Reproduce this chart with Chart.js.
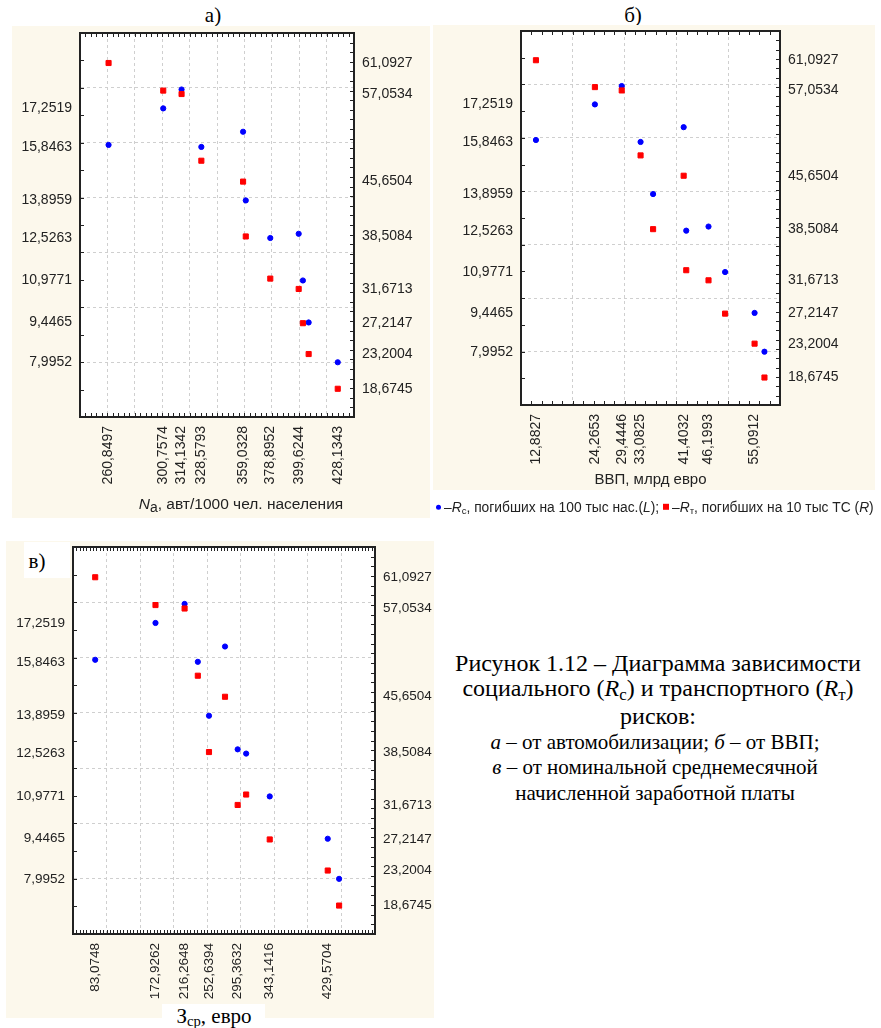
<!DOCTYPE html>
<html lang="ru">
<head>
<meta charset="utf-8">
<title>Рисунок 1.12</title>
<script src="https://cdn.jsdelivr.net/npm/chart.js@4.4.1/dist/chart.umd.min.js"></script>
<style>
  html, body { margin: 0; padding: 0; background: #fff; }
  body { width: 881px; height: 1028px; position: relative; overflow: hidden;
         font-family: "Liberation Sans", Arial, sans-serif; color: #222; }
  .panel { position: absolute; background: #fcf8ec; }
  .panel canvas { position: absolute; left: 0; top: 0; }
  .c { position: absolute; transform: translate(-50%, -50%); white-space: nowrap; }
  .serif { font-family: "Liberation Serif", "Times New Roman", serif; color: #000; }
  .legend { position: absolute; left: 436px; top: 508px; transform: translateY(-50%); font-size: 13.8px; white-space: nowrap; color: #222; }
  .dot { display: inline-block; width: 5px; height: 5px; border-radius: 50%; background: #0000ff; vertical-align: middle; margin: 0 3px 2px 0; }
  .sq { display: inline-block; width: 6px; height: 6px; background: #ff0000; vertical-align: middle; margin: 0 3px 2px 0; }
  sub { font-size: 70%; vertical-align: -0.25em; }
</style>
</head>
<body>

<div class="c serif" style="left:213px; top:15px; font-size:21px;">а)</div>
<div class="c serif" style="left:633px; top:15px; font-size:21px;">б)</div>

<div class="panel" style="left:12px; top:26px; width:418px; height:492px;">
  <canvas id="chartA" width="418" height="492"></canvas>
</div>
<div class="panel" style="left:433px; top:25px; width:442px; height:465px;">
  <canvas id="chartB" width="442" height="465"></canvas>
</div>
<div class="panel" style="left:6px; top:541px; width:428px; height:477px;">
  <canvas id="chartC" width="428" height="477"></canvas>
</div>

<div class="c" style="left:241px; top:505px; font-size:15.5px;"><i>N</i><sub style="font-size:90%">а</sub>, авт/1000 чел. населения</div>
<div style="position:absolute; left:24px; top:542px; width:46px; height:36px; background:#fff;"></div>
<div class="c serif" style="left:37px; top:561px; font-size:21px;">в)</div>
<div class="c serif" style="left:214px; top:1017px; font-size:21px; background:#fff; padding:0 14px;">З<sub>ср</sub>, евро</div>

<div class="legend"><span class="dot"></span>–<i>R</i><sub>с</sub>, погибших на 100 тыс нас.(<i>L</i>); <span class="sq"></span>–<i>R</i><sub>т</sub>, погибших на 10 тыс ТС (<i>R</i>)</div>

<div class="c serif" style="left:658px; top:663px; font-size:24px;">Рисунок 1.12 – Диаграмма зависимости</div>
<div class="c serif" style="left:658px; top:690px; font-size:24px;">социального (<i>R</i><sub>с</sub>) и транспортного (<i>R</i><sub>т</sub>)</div>
<div class="c serif" style="left:658px; top:716px; font-size:24px;">рисков:</div>
<div class="c serif" style="left:655px; top:742px; font-size:21px;"><i>а</i> – от автомобилизации; <i>б</i> – от ВВП;</div>
<div class="c serif" style="left:655px; top:767px; font-size:21px;"><i>в</i> – от номинальной среднемесячной</div>
<div class="c serif" style="left:655px; top:793px; font-size:21px;">начисленной заработной платы</div>

<script>
// Same 11 observations on every panel, plotted against three factors
const rcValues = [15.92, 17.2519, 17.94, 15.8463, 16.40, 13.8959, 12.5263, 12.68, 10.9771, 9.4465, 7.9952];
const rtValues = [61.0927, 57.5, 57.0534, 48.37, 45.6504, 38.5084, 33.02, 31.6713, 27.2147, 23.2004, 18.6745];

const naValues = [260.8497, 300.7574, 314.1342, 328.5793, 359.0328, 361.0, 378.8952, 399.6244, 402.7, 406.9, 428.1343];
const gdpValues = [12.8827, 24.2653, 29.4446, 33.0825, 41.4032, 35.5, 41.9, 46.1993, 49.4, 55.0912, 57.0];
const wageValues = [83.0748, 172.9262, 216.2648, 236.0, 276.5, 252.6394, 308.0, 295.3632, 343.1416, 429.5704, 446.5];

// tick labels printed on the axes
const naTicks = [260.8497, 300.7574, 314.1342, 328.5793, 359.0328, 378.8952, 399.6244, 428.1343];
const gdpTicks = [12.8827, 24.2653, 29.4446, 33.0825, 41.4032, 46.1993, 55.0912];
const wageTicks = [83.0748, 172.9262, 216.2648, 252.6394, 295.3632, 343.1416, 429.5704];
const rcTicks = [17.2519, 15.8463, 13.8959, 12.5263, 10.9771, 9.4465, 7.9952];
const rtTicks = [61.0927, 57.0534, 45.6504, 38.5084, 31.6713, 27.2147, 23.2004, 18.6745];

const frameColor = "#222222";
const gridColor = "#cfcfcf";
const clear = "rgba(0,0,0,0)";

// regular minor/major ticks plus the printed data values
function buildTicks(min, max, minor, major, labels) {
  const out = [];
  const n = Math.round((max - min) / minor);
  for (let i = 0; i <= n; i++) {
    const v = min + i * minor;
    const r = v / major;
    out.push({ value: v, kind: Math.abs(r - Math.round(r)) < 1e-6 ? "major" : "minor" });
  }
  labels.forEach(v => out.push({ value: v, kind: "label" }));
  return out.sort((a, b) => a.value - b.value);
}

function fmt(v) {
  return v.toFixed(4).replace(".", ",");
}

function makeScale(position, range, labels, size, opts) {
  const isX = position === "bottom";
  return {
    type: "linear",
    position: position,
    min: range.min,
    max: range.max,
    afterBuildTicks: s => { s.ticks = buildTicks(range.min, range.max, range.minor, range.major, labels); },
    afterFit: s => {
      if (isX) s.height = size; else s.width = size;
      s.paddingTop = s.paddingBottom = s.paddingLeft = s.paddingRight = 0;
    },
    grid: {
      drawOnChartArea: !!opts.grid,
      drawTicks: false,
      color: c => (c.tick && c.tick.kind === "major") ? gridColor : clear,
      lineWidth: 1
    },
    border: { display: true, color: frameColor, width: 2, dash: [3, 3] },
    ticks: {
      autoSkip: false,
      padding: opts.pad,
      color: "#222",
      font: { family: "Liberation Sans", size: opts.font || 14 },
      minRotation: isX ? 90 : 0,
      maxRotation: isX ? 90 : 0,
      callback: (v, i, ticks) => ticks[i].kind === "label" ? fmt(v) : ""
    },
    title: opts.title || { display: false }
  };
}

const plotBackground = {
  id: "plotBackground",
  beforeDraw(chart) {
    const { ctx, chartArea: a } = chart;
    ctx.save();
    ctx.fillStyle = "#fff";
    ctx.fillRect(a.left, a.top, a.right - a.left, a.bottom - a.top);
    ctx.restore();
  }
};

// closed frame with short inward tick marks, taken from the scales' own ticks
const plotFrame = {
  id: "plotFrame",
  afterDatasetsDraw(chart) {
    const { ctx, chartArea: a, scales } = chart;
    const len = 4;
    ctx.save();
    ctx.strokeStyle = frameColor;
    ctx.lineWidth = 1;
    ctx.beginPath();
    scales.x.ticks.forEach(t => {
      if (t.kind === "label") return;
      const p = Math.round(scales.x.getPixelForValue(t.value)) + 0.5;
      ctx.moveTo(p, a.bottom); ctx.lineTo(p, a.bottom - len);
      ctx.moveTo(p, a.top); ctx.lineTo(p, a.top + len);
    });
    scales.y.ticks.forEach(t => {
      if (t.kind === "label") return;
      const p = Math.round(scales.y.getPixelForValue(t.value)) + 0.5;
      ctx.moveTo(a.left, p); ctx.lineTo(a.left + len, p);
    });
    scales.y2.ticks.forEach(t => {
      if (t.kind === "label") return;
      const p = Math.round(scales.y2.getPixelForValue(t.value)) + 0.5;
      ctx.moveTo(a.right, p); ctx.lineTo(a.right - len, p);
    });
    ctx.stroke();
    ctx.lineWidth = 2;
    ctx.strokeRect(Math.round(a.left), Math.round(a.top),
                   Math.round(a.right - a.left), Math.round(a.bottom - a.top));
    ctx.restore();
  }
};

const rcRange = { min: 6, max: 20, minor: 1, major: 2 };
const rtRange = { min: 15, max: 65, minor: 1.25, major: 5 };

function makePanel(id, panel, plot, xValues, xRange, xTicks, extra) {
  const ctx = document.getElementById(id).getContext("2d");
  const font = extra.font || 14;
  new Chart(ctx, {
    type: "scatter",
    data: {
      datasets: [
        {
          label: "Rс",
          data: xValues.map((x, i) => ({ x: x, y: rcValues[i] })),
          yAxisID: "y",
          pointStyle: "circle",
          pointRadius: 2.6,
          backgroundColor: "#0000ff",
          borderColor: "#0000ff",
          borderWidth: 1,
          order: 1
        },
        {
          label: "Rт",
          data: xValues.map((x, i) => ({ x: x, y: rtValues[i] })),
          yAxisID: "y2",
          pointStyle: "rect",
          pointRadius: 3.6,
          backgroundColor: "#ff0000",
          borderColor: "#ff0000",
          borderWidth: 1,
          order: 0
        }
      ]
    },
    options: {
      responsive: false,
      animation: false,
      events: [],
      layout: { padding: { top: plot.top - panel.top, left: 0, right: 0, bottom: 0 } },
      plugins: { legend: { display: false }, tooltip: { enabled: false } },
      scales: {
        x: makeScale("bottom", xRange, xTicks, panel.top + panel.h - plot.bottom,
                     { grid: true, font: font, pad: 9, title: extra.title }),
        y: makeScale("left", rcRange, rcTicks, plot.left - panel.left, { grid: true, font: font, pad: 8 }),
        y2: makeScale("right", rtRange, rtTicks, panel.left + panel.w - plot.right, { font: font, pad: 8 })
      }
    },
    plugins: [plotBackground, plotFrame]
  });
}

makePanel("chartA",
  { left: 12, top: 26, w: 418, h: 492 },
  { left: 80, top: 33, right: 354, bottom: 417 },
  naValues, { min: 240, max: 440, minor: 4, major: 20 }, naTicks, {});

makePanel("chartB",
  { left: 433, top: 25, w: 442, h: 465 },
  { left: 521, top: 31, right: 780, bottom: 405 },
  gdpValues, { min: 10, max: 60, minor: 2, major: 10 }, gdpTicks,
  { title: { display: true, text: "ВВП, млрд евро", color: "#222",
             font: { family: "Liberation Sans", size: 15 }, padding: { top: 0, bottom: 1 } } });

makePanel("chartC",
  { left: 6, top: 541, w: 428, h: 477 },
  { left: 73, top: 547, right: 375, bottom: 934 },
  wageValues, { min: 50, max: 500, minor: 5, major: 50 }, wageTicks, { font: 13.5 });
</script>
</body>
</html>
